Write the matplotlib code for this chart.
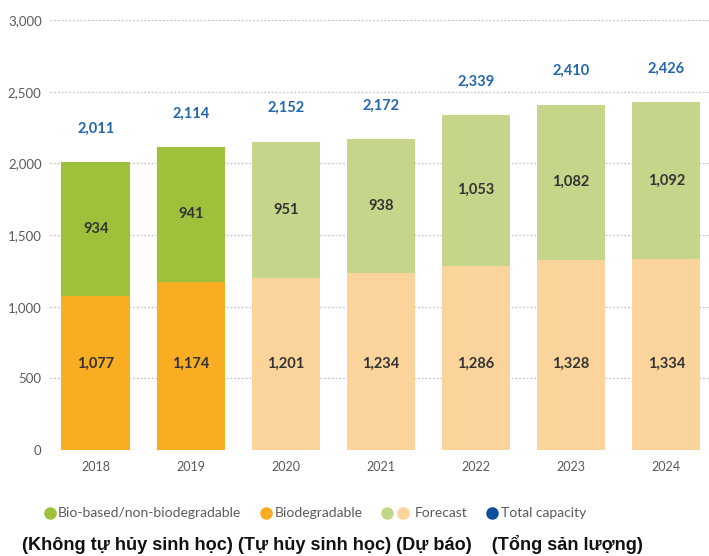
import matplotlib.pyplot as plt
from matplotlib.lines import Line2D
from matplotlib.ticker import FuncFormatter

# Data (thousand tonnes)
years = ['2018', '2019', '2020', '2021', '2022', '2023', '2024']
biodegradable = [1077, 1174, 1201, 1234, 1286, 1328, 1334]
non_biodegradable = [934, 941, 951, 938, 1053, 1082, 1092]
total_capacity = [2011, 2114, 2152, 2172, 2339, 2410, 2426]
is_forecast = [False, False, True, True, True, True, True]

# Colours
green = '#9dc13b'
orange = '#f9ad22'
green_fc = '#c5d68a'
orange_fc = '#fbd49b'
blue_lbl = '#2366b0'
blue_dot = '#0d4f9c'
grey = '#5a5a5a'

plt.rcParams['font.family'] = ['Lato', 'DejaVu Sans']

fig = plt.figure(figsize=(7.09, 5.56), dpi=100)
ax = fig.add_axes([50 / 709, 1 - 450 / 556, 659 / 709, 430 / 556])

x = list(range(len(years)))
bottom_colors = [orange_fc if f else orange for f in is_forecast]
top_colors = [green_fc if f else green for f in is_forecast]

ax.bar(x, biodegradable, width=0.72, color=bottom_colors, zorder=3)
ax.bar(x, non_biodegradable, width=0.72, bottom=biodegradable, color=top_colors, zorder=3)

for i in x:
    ax.text(i, 600, f'{biodegradable[i]:,}', ha='center', va='center',
            fontsize=10.5, fontweight='bold', color='#333333', zorder=4)
    ax.text(i, biodegradable[i] + non_biodegradable[i] / 2, f'{non_biodegradable[i]:,}',
            ha='center', va='center', fontsize=10.5, fontweight='bold', color='#333333', zorder=4)
    ax.annotate(f'{total_capacity[i]:,}', (i, total_capacity[i]), xytext=(0, 24),
                textcoords='offset points', ha='center', va='center',
                fontsize=10.5, fontweight='bold', color=blue_lbl)

ax.set_xlim(-0.48, 6.45)
ax.set_ylim(0, 3000)
ax.set_yticks(range(0, 3001, 500))
ax.yaxis.set_major_formatter(FuncFormatter(lambda v, p: f'{int(v):,}'))
ax.set_xticks(x)
ax.set_xticklabels(years)
ax.tick_params(axis='both', length=0, labelsize=9, colors=grey)
ax.tick_params(axis='y', labelsize=9.5, pad=6)
ax.tick_params(axis='x', pad=8)
ax.grid(axis='y', color='#c4c4c4', linestyle=(0, (1.5, 1.5)), linewidth=0.9, zorder=0)
for s in ax.spines.values():
    s.set_visible(False)

# Legend row
legend_y = 1 - 513 / 556
items = [
    ([50], [green], 'Bio-based/non-biodegradable', 58),
    ([266], [orange], 'Biodegradable', 275),
    ([387, 403], [green_fc, orange_fc], 'Forecast', 415),
    ([492], [blue_dot], 'Total capacity', 501),
]
for xs, cols, label, tx in items:
    for px, c in zip(xs, cols):
        fig.add_artist(Line2D([px / 709], [legend_y], marker='o', markersize=8,
                              color=c, linestyle='none', transform=fig.transFigure))
    fig.text(tx / 709, legend_y, label, ha='left', va='center', fontsize=10, color=grey)

fig.text(22 / 709, 1 - 545 / 556,
         '(Không tự hủy sinh học) (Tự hủy sinh học) (Dự báo)    (Tổng sản lượng)',
         ha='left', va='center', fontsize=13.1, fontweight='bold', color='#111111',
         family=['Liberation Sans', 'DejaVu Sans'])

fig.savefig('out.png', dpi=100)
